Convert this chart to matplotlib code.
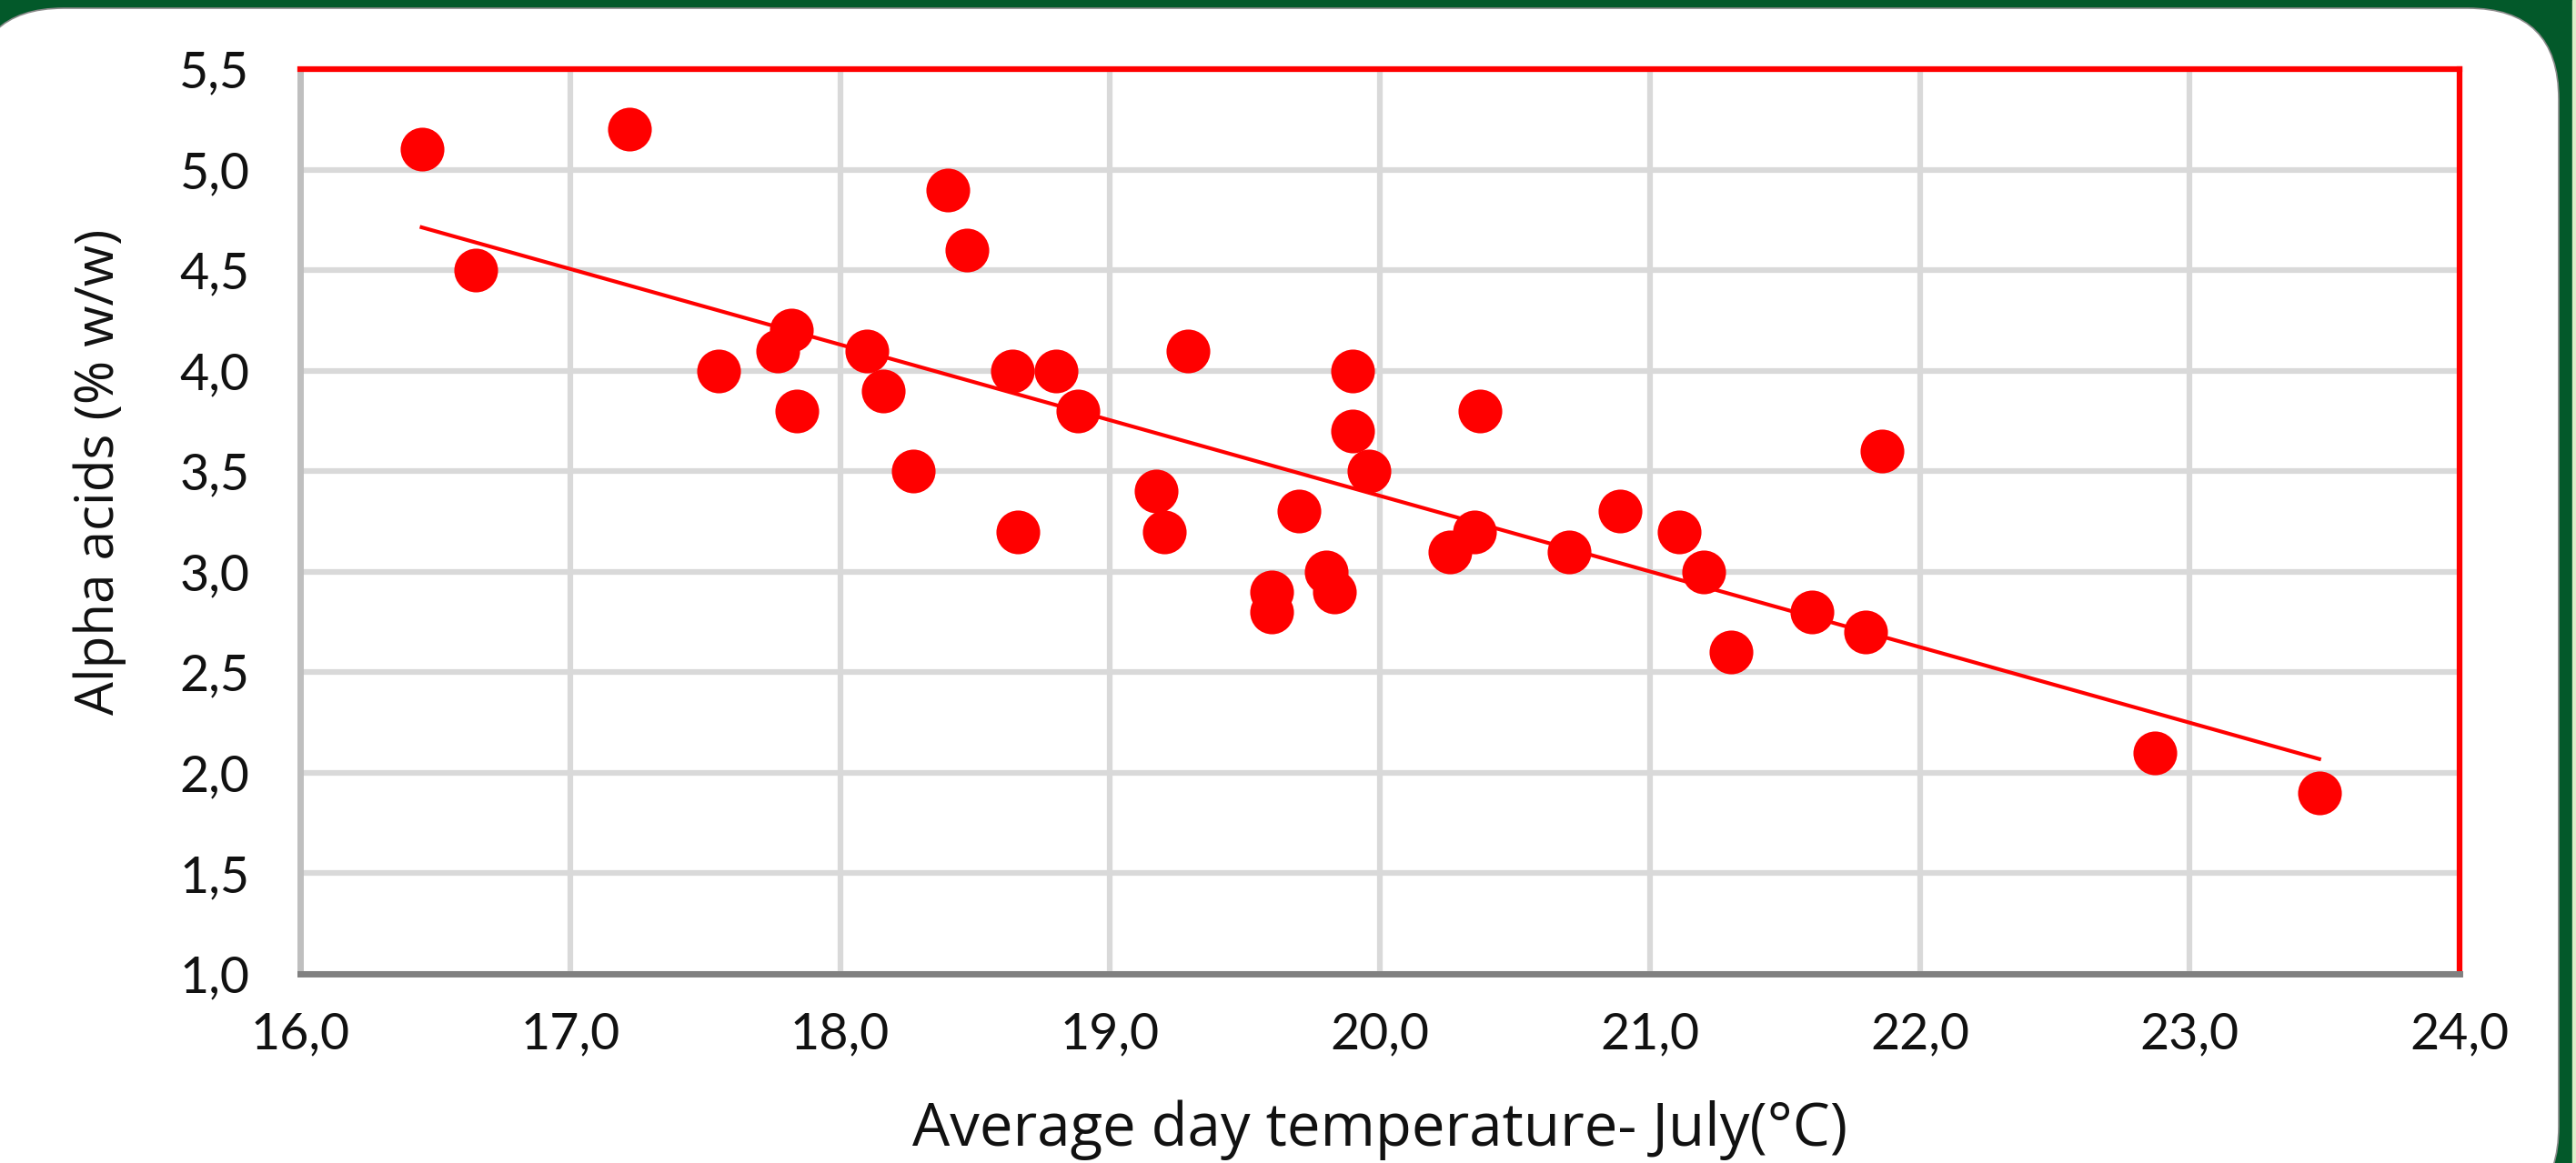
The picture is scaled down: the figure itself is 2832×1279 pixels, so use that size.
import numpy as np
import matplotlib
matplotlib.use("Agg")
import matplotlib.pyplot as plt
from matplotlib.patches import FancyBboxPatch
from matplotlib.ticker import FuncFormatter, MultipleLocator

# average July day temperature (°C) and alpha acids (% w/w)
temp_july = [16.45, 16.65, 17.22, 17.55, 17.77, 17.82, 17.84, 18.10, 18.16, 18.27,
             18.40, 18.47, 18.64, 18.66, 18.80, 18.88, 19.17, 19.20, 19.29, 19.60,
             19.60, 19.70, 19.80, 19.83, 19.90, 19.90, 19.96, 20.26, 20.35, 20.37,
             20.70, 20.89, 21.11, 21.20, 21.30, 21.60, 21.80, 21.86, 22.87, 23.48]
alpha_acids = [5.1, 4.5, 5.2, 4.0, 4.1, 4.2, 3.8, 4.1, 3.9, 3.5,
               4.9, 4.6, 4.0, 3.2, 4.0, 3.8, 3.4, 3.2, 4.1, 2.9,
               2.8, 3.3, 3.0, 2.9, 4.0, 3.7, 3.5, 3.1, 3.2, 3.8,
               3.1, 3.3, 3.2, 3.0, 2.6, 2.8, 2.7, 3.6, 2.1, 1.9]

x_range = (16.0, 24.0)
y_range = (1.0, 5.5)
x_label = "Average day temperature- July(°C)"
y_label = "Alpha acids (% w/w)"

plt.rcParams['font.family'] = ['Lato', 'DejaVu Sans']

W, H = 2832, 1279
fig = plt.figure(figsize=(W / 100, H / 100), dpi=100)
fig.patch.set_facecolor('#03592a')

# background: white rounded panel on the green frame (pixel coords)
bg = fig.add_axes([0, 0, 1, 1])
bg.set_xlim(0, W)
bg.set_ylim(H, 0)
bg.axis('off')
bg.add_patch(FancyBboxPatch((-30 + 100, 9 + 100), 2843 - 200, 1330 - 200,
                            boxstyle="round,pad=100", facecolor='white',
                            edgecolor='#8a8a8a', linewidth=1.2))
bg.axvspan(2828, W, color='#dcefc8')

ax = fig.add_axes([330 / W, 1 - 1071 / H, (2704 - 330) / W, (1071 - 76) / H])
ax.set_facecolor('white')

ax.scatter(temp_july, alpha_acids, s=1200, color='#ff0000', zorder=3, linewidths=0)

# linear trendline
coef = np.polyfit(temp_july, alpha_acids, 1)
xs = np.array([min(temp_july), max(temp_july)])
ax.plot(xs, np.polyval(coef, xs), color='#ff0000', lw=3, zorder=2)

ax.set_xlim(*x_range)
ax.set_ylim(*y_range)
ax.xaxis.set_major_locator(MultipleLocator(1.0))
ax.yaxis.set_major_locator(MultipleLocator(0.5))
comma = FuncFormatter(lambda v, p: f"{v:.1f}".replace('.', ','))
ax.xaxis.set_major_formatter(comma)
ax.yaxis.set_major_formatter(comma)

ax.grid(True, color='#d9d9d9', lw=4.5, zorder=0)
ax.set_axisbelow(True)
ax.tick_params(length=0, labelsize=40, colors='#111111')
ax.tick_params(axis='x', pad=30)
ax.tick_params(axis='y', pad=40)

for side in ['top', 'right']:
    ax.spines[side].set_color('#ff0000')
    ax.spines[side].set_linewidth(4.5)
ax.spines['left'].set_color('#bfbfbf')
ax.spines['left'].set_linewidth(5)
ax.spines['bottom'].set_color('#808080')
ax.spines['bottom'].set_linewidth(5)

ax.text(0.5, (1071 - 1243) / 995, x_label, transform=ax.transAxes,
        ha='center', va='center', fontsize=47, color='#111111',
        family=['Open Sans', 'DejaVu Sans'])
ax.text((110 - 330) / 2374, 0.555, y_label, transform=ax.transAxes, rotation=90,
        ha='center', va='center', fontsize=42, color='#111111',
        family=['Open Sans', 'DejaVu Sans'])

fig.savefig('out.png', dpi=100, facecolor=fig.get_facecolor())
